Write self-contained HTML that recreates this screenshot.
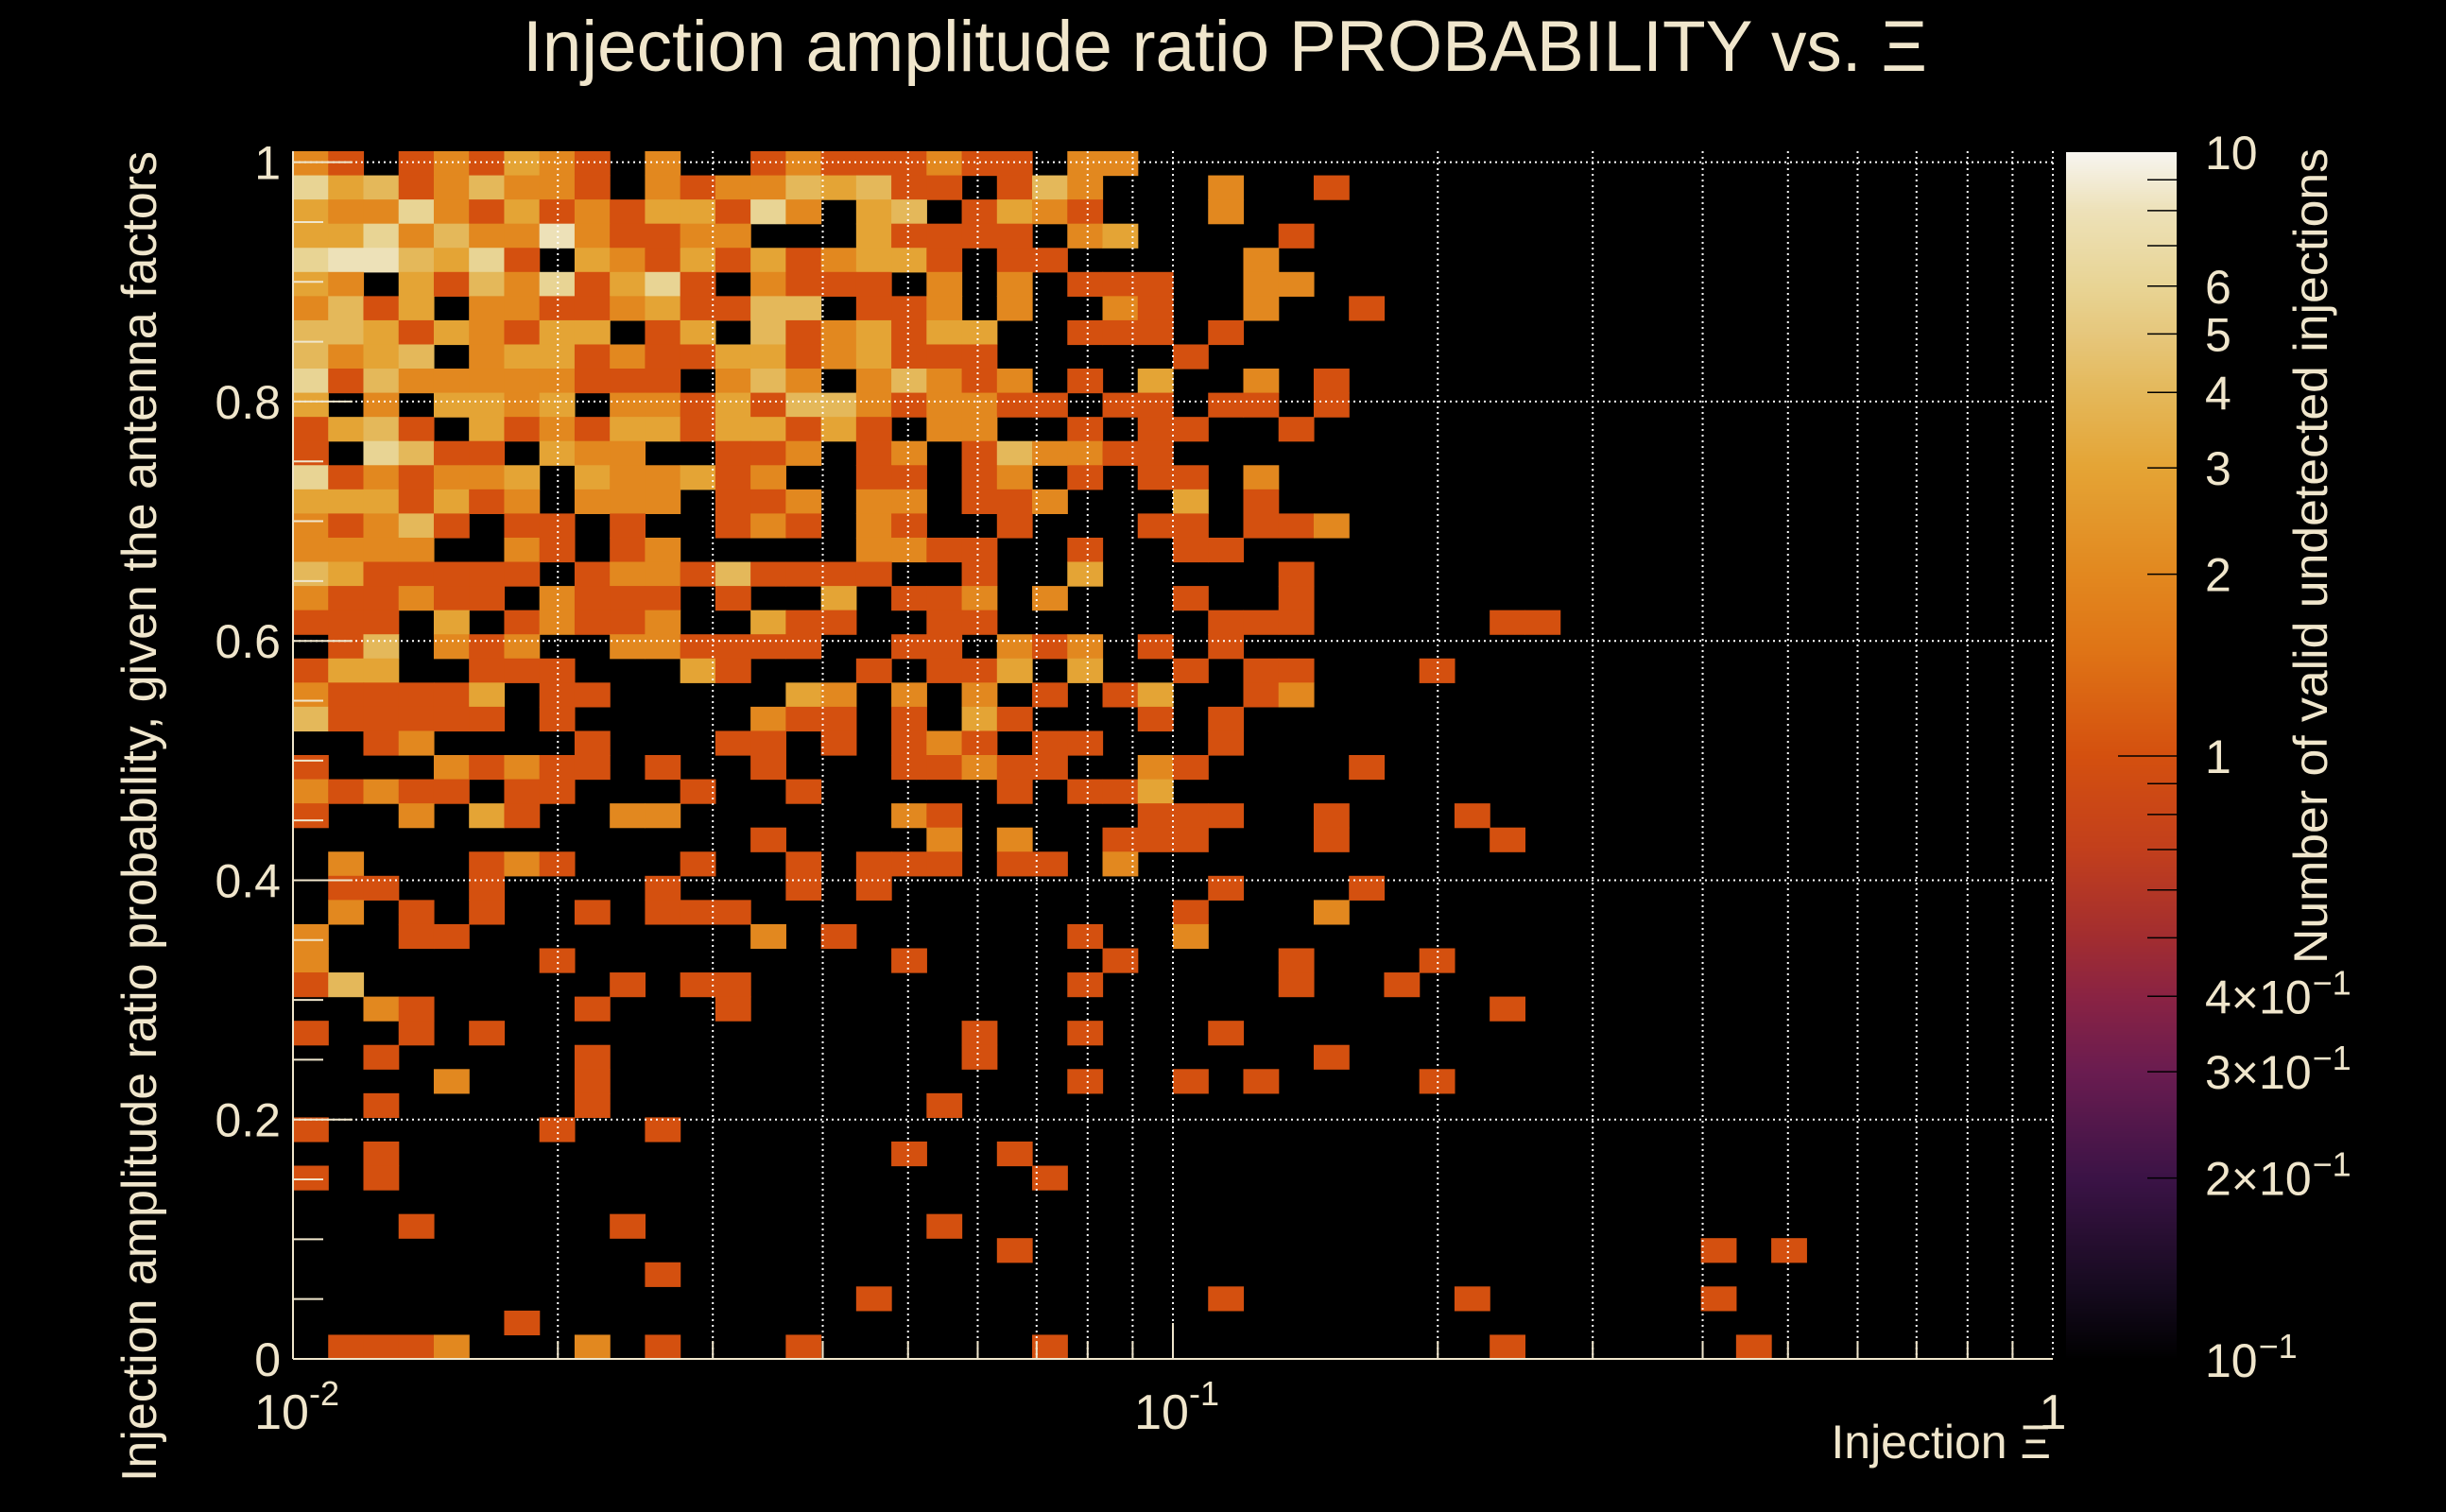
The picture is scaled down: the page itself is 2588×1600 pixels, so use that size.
<!DOCTYPE html>
<html><head><meta charset="utf-8"><style>
html,body{margin:0;padding:0;background:#000;}
svg{display:block;}
text{font-family:"Liberation Sans","DejaVu Sans",sans-serif;fill:#f0e6cc;}
</style></head><body>
<svg id="chart" width="2588" height="1600" viewBox="0 0 2588 1600" xmlns="http://www.w3.org/2000/svg">
<rect x="0" y="0" width="2588" height="1600" fill="#000"/>
<g id="cells"></g>
<g id="grid"></g>
<g id="axes"></g>
<g id="cbar"></g>
<text x="553" y="75" font-size="76" textLength="1486" lengthAdjust="spacingAndGlyphs">Injection amplitude ratio PROBABILITY vs.  Ξ</text>
<text transform="translate(165,160) rotate(-90)" text-anchor="end" font-size="52" textLength="1408" lengthAdjust="spacingAndGlyphs">Injection amplitude ratio probability, given the antenna factors</text>
<text x="2170" y="1543" text-anchor="end" font-size="50">Injection Ξ</text>
<text transform="translate(2462,157) rotate(-90)" text-anchor="end" font-size="50" textLength="863" lengthAdjust="spacingAndGlyphs">Number of valid undetected injections</text>
</svg>
<script>
// ---- data ----
// rows listed from top (y near 1) to bottom (y near 0); each digit = count in bin, columns = log-x bins
const rowCounts = [
"210121321020012111211022",
"634124221021224341101420002001",
"322621312133162034013210002",
"33624228211220003111102300001",
"6884361032131312331011000002",
"32031426136102111020201110022",
"2413022112311440112020021002001",
"443132133013041231330011101",
"42340233121133123111000001",
"614222221110242024212010300201",
"302033230221314421221101101101",
"13410312133133131022001011001",
"1064110322001120120142211",
"6121223032231200110120101102",
"3331312022201120220112000301",
"212410110100121021001000110112",
"222200210120000022110010011",
"43111110122141111001003000001",
"21121102111010030112020001001",
"111030121120031100110000001110000011",
"014021200221111001102120101",
"133001110003100010113030010110001",
"21111301100000320202010130012",
"411111010000021101031000101",
"001200001000110101210110001",
"1000212110100100011211002100001",
"2121101100010010000010113",
"1002031002200000021000001110010001",
"00000000000001000020200111000100001",
"020001210001001011101102",
"0110010000100010100000000010001",
"020101001011100000000000010002",
"20011000000002010000001002",
"200000010000000001000001000010001",
"14000000010110000000001000001001",
"00210000100010000000000000000000001",
"100101000000000000010010001",
"001000001000000000010000000001",
"000020001000000000000010010100001",
"001000001000000000100000",
"100000010010000000000000",
"001000000000000001001000",
"101000000000000000000100",
"0",
"000100000100000000100000",
"00000000000000000000100000000000000000001010",
"00000000001",
"00000000000000001000000000100000010000001",
"0000001",
"01112000201000100000010000000000001000000100"
];
const xTickValues = [0.01, 0.1, 1];
const xTickExps = ["-2", "-1", ""];
const yTickValues = [0, 0.2, 0.4, 0.6, 0.8, 1];
const yTickLabels = ["0", "0.2", "0.4", "0.6", "0.8", "1"];
const cbarTickValues = [0.1, 0.2, 0.3, 0.4, 1, 2, 3, 4, 5, 6, 10];
const cbarTickLabels = ["10", "2×10", "3×10", "4×10", "1", "2", "3", "4", "5", "6", "10"];
const cbarTickExps = ["−1", "−1", "−1", "−1", "", "", "", "", "", "", ""];
const cmapValues = [0.1, 0.13, 0.2, 0.3, 0.4, 0.5, 0.7, 1, 1.5, 2, 3, 4, 5, 6, 8, 10];
const cmapColors = ["#000000","#150a1e","#3b1346","#6a1c50","#8a2343","#a22d30","#c23f1c","#d4500f","#df7416","#e2881f","#e4a435","#e4b85a","#e6c77c","#e8d494","#ede1b8","#f7f5f0"];

// ---- geometry / scales ----
const NX = 50, NY = 50;
const X0 = 310, X1 = 2172, YB = 1438, YT = 160;
const xLogMin = -2, xLogMax = 0, yMin = 0, yMax = 1.0092;
function xScale(v){ return X0 + (Math.log10(v) - xLogMin) / (xLogMax - xLogMin) * (X1 - X0); }
function yScale(v){ return YB - (v - yMin) / (yMax - yMin) * (YB - YT); }
const CB_X = 2186, CB_W = 117, CB_T = 161, CB_B = 1439;
function cScale(v){ return CB_B - (Math.log10(v) + 1) / 2 * (CB_B - CB_T); }
function hex(c){ return [parseInt(c.substr(1,2),16),parseInt(c.substr(3,2),16),parseInt(c.substr(5,2),16)]; }
function colorFor(v){
  const lv = Math.log10(Math.max(0.1, Math.min(10, v)));
  for (let i = 0; i < cmapValues.length - 1; i++){
    const a = Math.log10(cmapValues[i]), b = Math.log10(cmapValues[i+1]);
    if (lv <= b){
      const t = (lv - a) / (b - a), ca = hex(cmapColors[i]), cb = hex(cmapColors[i+1]);
      return "rgb(" + ca.map((x,k)=>Math.round(x + (cb[k]-x)*t)).join(",") + ")";
    }
  }
  return cmapColors[cmapColors.length-1];
}
const NS = "http://www.w3.org/2000/svg";
function mk(tag, attrs, parent){
  const e = document.createElementNS(NS, tag);
  for (const k in attrs) e.setAttribute(k, attrs[k]);
  parent.appendChild(e); return e;
}
const binW = (xLogMax - xLogMin) / NX, binH = (yMax - yMin) / NY;

// ---- cells ----
const cells = document.getElementById("cells");
rowCounts.forEach((row, r) => {
  const s = row.padEnd(NX, "0");
  for (let c = 0; c < NX; c++){
    const v = parseInt(s[c], 10);
    if (!v) continue;
    const xa = xScale(Math.pow(10, xLogMin + c*binW)), xb = xScale(Math.pow(10, xLogMin + (c+1)*binW));
    const yLo = yMin + (NY - 1 - r) * binH;
    const ya = yScale(yLo + binH), yb = yScale(yLo);
    const rect = mk("rect", {x: xa.toFixed(2), y: ya.toFixed(2), width: (xb-xa+0.6).toFixed(2), height: (yb-ya+0.6).toFixed(2), fill: colorFor(v)}, cells);
    
    
  }
});

// ---- grid ----
const grid = document.getElementById("grid");
for (let d = -2; d < 0; d++){
  for (let m = 1; m <= 9; m++){
    const v = m * Math.pow(10, d);
    if (v <= 0.01) continue;
    const x = xScale(v);
    const l = mk("line", {x1: x, x2: x, y1: YT, y2: YB, stroke: "#ffffff", "stroke-width": 2, "stroke-dasharray": "2,4"}, grid);
    
    
  }
}
{
  const x = xScale(1);
  const l = mk("line", {x1: x, x2: x, y1: YT, y2: YB, stroke: "#ffffff", "stroke-width": 2, "stroke-dasharray": "2,4"}, grid);
  
  
}
yTickValues.forEach(v => {
  if (v === 0) return;
  const y = yScale(v);
  const l = mk("line", {x1: X0, x2: X1, y1: y, y2: y, stroke: "#ffffff", "stroke-width": 2, "stroke-dasharray": "2,4"}, grid);
  
  
});

// ---- axes ----
const axes = document.getElementById("axes");
const axCol = "#f0e6cc";
let al = mk("line", {x1: X0, x2: X0, y1: YT, y2: YB, stroke: axCol, "stroke-width": 2}, axes);


al = mk("line", {x1: X0, x2: X1, y1: YB, y2: YB, stroke: axCol, "stroke-width": 2}, axes);


for (let i = 0; i <= 20; i++){
  const v = i * 0.05, y = yScale(v), major = (i % 4 === 0);
  const t = mk("line", {x1: X0, x2: X0 + (major ? 63 : 32), y1: y, y2: y, stroke: axCol, "stroke-width": 2}, axes);
  
  
}
yTickValues.forEach((v, i) => {
  const t = mk("text", {x: 297, y: yScale(v) + 18, "text-anchor": "end", "font-size": 50}, axes);
  t.textContent = yTickLabels[i];
  
  
});
for (let d = -2; d < 0; d++){
  for (let m = 1; m <= 9; m++){
    const v = m * Math.pow(10, d), x = xScale(v), major = (m === 1);
    const t = mk("line", {x1: x, x2: x, y1: YB, y2: YB - (major ? 38 : 19), stroke: axCol, "stroke-width": 2}, axes);
    
    
  }
}
xTickValues.forEach((v, i) => {
  const x = xScale(v);
  const t = mk("text", {x: x - (xTickExps[i] ? 12 : 0), y: 1512, "text-anchor": "middle", "font-size": 52}, axes);
  t.textContent = xTickExps[i] ? "10" : "1";
  
  
  if (xTickExps[i]){
    const s = mk("text", {x: x + 17, y: 1487, "text-anchor": "start", "font-size": 36}, axes);
    s.textContent = xTickExps[i];
    
    
  }
});

// ---- color bar ----
const cbar = document.getElementById("cbar");
for (let p = CB_T; p < CB_B; p += 2){
  const v = Math.pow(10, ((CB_B - p - 1) / (CB_B - CB_T)) * 2 - 1);
  const s = mk("rect", {x: CB_X, y: p, width: CB_W, height: 2.5, fill: colorFor(v)}, cbar);
  
  
}
const cbMinor = [0.2,0.3,0.4,0.5,0.6,0.7,0.8,0.9,1,2,3,4,5,6,7,8,9];
cbMinor.forEach(v => {
  const y = cScale(v);
  const t = mk("line", {x1: CB_X + CB_W, x2: CB_X + CB_W - (v === 1 ? 62 : 31), y1: y, y2: y, stroke: "#000", "stroke-width": 1.5}, cbar);
  
  
});
cbarTickValues.forEach((v, i) => {
  const y = cScale(v) + 18;
  const t = mk("text", {x: 2333, y: y, "font-size": 50}, cbar);
  t.textContent = cbarTickLabels[i];
  
  
  if (cbarTickExps[i]){
    const w = t.getComputedTextLength();
    const s = mk("text", {x: 2333 + w + 1, y: y - 20, "font-size": 36}, cbar);
    s.textContent = cbarTickExps[i];
    
    
  }
});
</script>
</body></html>
